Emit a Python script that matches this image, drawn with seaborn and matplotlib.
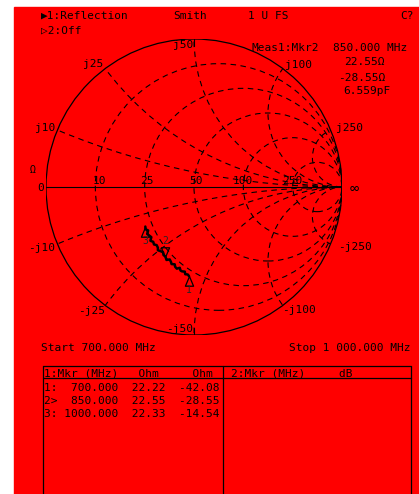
import numpy as np
import pandas as pd
import seaborn as sns
import matplotlib.pyplot as plt
from matplotlib.patches import Circle, Rectangle

# trace data: 700 - 1000 MHz sweep, impedance in ohm
freq_mhz = [700, 710, 720, 730, 740, 750, 760, 770, 780, 790, 800,
            810, 820, 830, 840, 850, 860, 870, 880, 890, 900,
            910, 920, 930, 940, 950, 960, 970, 980, 990, 1000]
res_ohm = [22.22, 22.6, 22.1, 23.0, 22.4, 22.3, 23.1, 22.0, 22.2, 22.9, 22.1,
           22.6, 23.0, 21.9, 22.2, 22.55, 22.4, 23.0, 22.6, 21.9, 22.5,
           22.7, 22.0, 22.3, 21.6, 22.6, 22.2, 21.8, 22.7, 22.0, 22.33]
reac_ohm = [-42.08, -41.2, -40.1, -39.3, -38.2, -37.4, -36.4, -35.6, -34.5, -33.7, -32.6,
            -31.8, -30.7, -29.9, -29.3, -28.55, -27.6, -26.6, -25.8, -24.7, -23.9,
            -22.8, -22.0, -21.0, -20.1, -19.1, -18.2, -17.3, -16.3, -15.5, -14.54]

# markers
mkr_freq = [700.0, 850.0, 1000.0]
mkr_res = [22.22, 22.55, 22.33]
mkr_reac = [-42.08, -28.55, -14.54]

# grid values (ohm), z0 = 50
z0 = 50.0
grid_res = [10, 25, 50, 100, 250]
grid_reac = [10, 25, 50, 100, 250]

def gamma(r, x):
    z = (np.asarray(r) + 1j * np.asarray(x)) / z0
    g = (z - 1) / (z + 1)
    return g.real, g.imag

df = pd.DataFrame({'freq': freq_mhz, 'R': res_ohm, 'X': reac_ohm})
df['re'], df['im'] = gamma(df['R'], df['X'])

sns.set_theme(style='white')
plt.rcParams['font.family'] = ['DejaVu Sans Mono', 'DejaVu Sans']
plt.rcParams['font.size'] = 8

RED = '#ff0000'
fig = plt.figure(figsize=(4.19, 4.94), dpi=100)
fig.patch.set_facecolor('white')

# background / text axes in pixel coords
bg = fig.add_axes([0, 0, 1, 1])
bg.set_xlim(0, 419)
bg.set_ylim(494, 0)
bg.axis('off')
bg.add_patch(Rectangle((14, 7), 405, 490, color=RED, zorder=0))

def txt(x, y, s, ha='left', size=8):
    bg.text(x, y, s, va='center', ha=ha, color='black', fontsize=size)

txt(41, 16, '\u25b61:Reflection')
txt(173, 16, 'Smith')
txt(248, 16, '1 U FS')
txt(400, 16, 'C?')
txt(41, 31, '\u25b72:Off')

txt(251, 48, 'Meas1:Mkr2')
txt(333, 48, '850.000 MHz')
txt(385, 62, '22.55\u03a9', ha='right')
txt(385, 78, '-28.55\u03a9', ha='right')
txt(390, 91, '6.559pF', ha='right')

# chart labels
txt(41, 188, '0', ha='center')
txt(33, 170, '\u03a9', ha='center', size=7)
for lab, px in zip(grid_res, [99, 147, 196, 243, 292]):
    txt(px, 181, str(lab), ha='center')
txt(354, 188, '\u221e', ha='center', size=11)
txt(193, 45, 'j50', ha='right')
txt(103, 64, 'j25', ha='right')
txt(285, 65, 'j100')
txt(55, 128, 'j10', ha='right')
txt(336, 128, 'j250')
txt(55, 248, '-j10', ha='right')
txt(338, 247, '-j250')
txt(105, 311, '-j25', ha='right')
txt(282, 310, '-j100')
txt(193, 329, '-j50', ha='right')

txt(41, 348, 'Start 700.000 MHz')
txt(410, 348, 'Stop 1 000.000 MHz', ha='right')

# marker table
for xs, ys in [([43, 411], [366, 366]), ([43, 411], [378, 378]),
               ([43, 43], [366, 494]), ([223, 223], [366, 494]),
               ([411, 411], [366, 494])]:
    bg.plot(xs, ys, color='black', lw=0.9)
txt(44, 373, '1:Mkr (MHz)   Ohm     Ohm')
txt(231, 373, '2:Mkr (MHz)     dB')
tags = ['1:', '2>', '3:']
for i in range(3):
    row = '%s%9.3f  %5.2f  %6.2f' % (tags[i], mkr_freq[i], mkr_res[i], mkr_reac[i])
    txt(44, 388 + 13 * i, row)

# smith chart axes
cx, cy, rad = 194, 187, 148
ax = fig.add_axes([(cx - rad) / 419, (494 - cy - rad) / 494, 2 * rad / 419, 2 * rad / 494])
ax.set_xlim(-1, 1)
ax.set_ylim(-1, 1)
ax.axis('off')
ax.patch.set_alpha(0)

outer = Circle((0, 0), 1, fill=False, color='black', lw=0.9)
ax.add_patch(outer)
ax.plot([-1, 1], [0, 0], color='black', lw=0.8)
ax.plot([0, 0], [1, 0.95], color='black', lw=0.8)
ax.plot([0, 0], [-1, -0.95], color='black', lw=0.8)
dash = (0, (5, 4))
for r in grid_res:
    rn = r / z0
    ax.add_patch(Circle((rn / (1 + rn), 0), 1 / (1 + rn), fill=False,
                        color='black', lw=0.8, ls=dash))
for x in grid_reac:
    xn = x / z0
    for s in (1, -1):
        c = Circle((1, s / xn), 1 / xn, fill=False, color='black', lw=0.8, ls=dash)
        ax.add_patch(c)
        c.set_clip_path(outer)

# trace
sns.lineplot(data=df, x='re', y='im', sort=False, color='black', lw=1.8, ax=ax,
             legend=False)
ax.set_xlim(-1, 1)
ax.set_ylim(-1, 1)
ax.set_xlabel('')
ax.set_ylabel('')

up = [(0, 0), (-0.42, -1), (0.42, -1), (0, 0)]
down = [(0, 0), (-0.42, 1), (0.42, 1), (0, 0)]
mre, mim = gamma(mkr_res, mkr_reac)
for i in range(3):
    m = down if i == 1 else up
    ax.plot(mre[i], mim[i], marker=m, ms=14, mfc='none', mec='black', mew=0.9)
    off = 0.105 if i == 1 else -0.095
    ax.text(mre[i], mim[i] + off, str(i + 1), ha='center', va='center', fontsize=7)

fig.savefig('out.png', dpi=100)
